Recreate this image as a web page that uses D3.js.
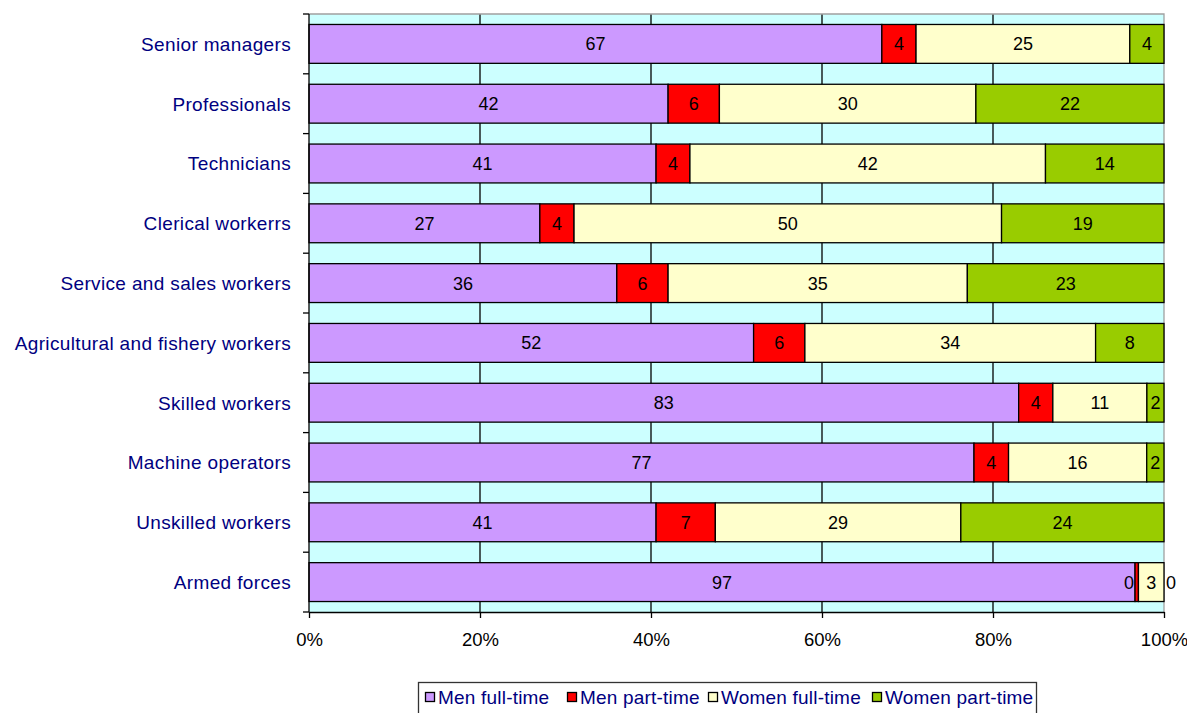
<!DOCTYPE html>
<html>
<head>
<meta charset="utf-8">
<script src="https://cdn.jsdelivr.net/npm/d3@7"></script>
<style>
  html, body { margin: 0; padding: 0; background: #fff; }
  svg { display: block; font-family: "Liberation Sans", Arial, sans-serif; }
</style>
</head>
<body>
<svg id="chart" width="1187" height="713"></svg>
<script>
// Occupational groups, top to bottom
const categories = [
  "Senior managers", "Professionals", "Technicians", "Clerical workerrs",
  "Service and sales workers", "Agricultural and fishery workers",
  "Skilled workers", "Machine operators", "Unskilled workers", "Armed forces"
];
// Share of each group (per cent)
const menFullTime     = [67, 42, 41, 27, 36, 52, 83, 77, 41, 97];
const menPartTime     = [4, 6, 4, 4, 6, 6, 4, 4, 7, 0.4];
const womenFullTime   = [25, 30, 42, 50, 35, 34, 11, 16, 29, 3];
const womenPartTime   = [4, 22, 14, 19, 23, 8, 2, 2, 24, 0];
const seriesNames = ["Men full-time", "Men part-time", "Women full-time", "Women part-time"];
const seriesColors = ["#CC99FF", "#FF0000", "#FFFFCC", "#99CC00"];
const xTickLabels = ["0%", "20%", "40%", "60%", "80%", "100%"];

const rows = categories.map((c, i) => ({
  category: c,
  "Men full-time": menFullTime[i],
  "Men part-time": menPartTime[i],
  "Women full-time": womenFullTime[i],
  "Women part-time": womenPartTime[i]
}));

const stacked = d3.stack()
  .keys(seriesNames)
  .offset(d3.stackOffsetExpand)(rows);

const svg = d3.select("#chart");
const plot = { left: 309, right: 1164, top: 14, bottom: 612 };

const x = d3.scaleLinear().domain([0, 1]).range([plot.left, plot.right]);
const y = d3.scaleBand().domain(categories).range([plot.top, plot.bottom]).paddingInner(0.35).paddingOuter(0.175);
const yBand = d3.scaleBand().domain(categories).range([plot.top, plot.bottom]);

// Plot background
svg.append("rect")
  .attr("x", plot.left).attr("y", plot.top)
  .attr("width", plot.right - plot.left).attr("height", plot.bottom - plot.top)
  .attr("fill", "#CCFFFF");

// Vertical gridlines
svg.append("g").selectAll("line")
  .data([0.2, 0.4, 0.6, 0.8])
  .join("line")
  .attr("x1", d => x(d)).attr("x2", d => x(d))
  .attr("y1", plot.top).attr("y2", plot.bottom)
  .attr("stroke", "#000").attr("stroke-width", 1.3);

// Plot border (top and right)
svg.append("path")
  .attr("d", `M${plot.left},${plot.top}H${plot.right}V${plot.bottom}`)
  .attr("fill", "none").attr("stroke", "#A0A0A0").attr("stroke-width", 1.3);

// Stacked bars
const layer = svg.append("g").selectAll("g")
  .data(stacked)
  .join("g")
  .attr("fill", (d, i) => seriesColors[i]);

layer.selectAll("rect")
  .data(d => d.map(s => ({ seg: s, key: d.key })))
  .join("rect")
  .attr("x", d => x(d.seg[0]))
  .attr("y", d => y(d.seg.data.category))
  .attr("width", d => x(d.seg[1]) - x(d.seg[0]))
  .attr("height", y.bandwidth())
  .attr("stroke", "#000").attr("stroke-width", 1.3);

// Value labels
const lastKey = seriesNames[seriesNames.length - 1];
stacked.forEach(s => {
  svg.append("g").selectAll("text")
    .data(s)
    .join("text")
    .attr("x", d => {
      const v = d.data[s.key];
      if (Math.round(v) === 0) return s.key === lastKey ? x(d[1]) + 2 : x(d[0]) - 1;
      return (x(d[0]) + x(d[1])) / 2;
    })
    .attr("y", d => y(d.data.category) + y.bandwidth() / 2)
    .attr("dy", "0.36em")
    .attr("text-anchor", d => {
      const v = d.data[s.key];
      if (Math.round(v) === 0) return s.key === lastKey ? "start" : "end";
      return "middle";
    })
    .attr("font-size", 18)
    .attr("fill", "#000")
    .text(d => d3.format(".0f")(d.data[s.key]));
});

// Left axis with ticks between categories
const yAxisG = svg.append("g");
yAxisG.append("line")
  .attr("x1", plot.left).attr("x2", plot.left)
  .attr("y1", plot.top).attr("y2", plot.bottom)
  .attr("stroke", "#000").attr("stroke-width", 1.3);
const bounds = categories.map(c => yBand(c)).concat([plot.bottom]);
yAxisG.selectAll(".tk").data(bounds).join("line")
  .attr("x1", plot.left - 6).attr("x2", plot.left)
  .attr("y1", d => d).attr("y2", d => d)
  .attr("stroke", "#000").attr("stroke-width", 1.3);
yAxisG.selectAll("text").data(categories).join("text")
  .attr("x", 291)
  .attr("y", d => yBand(d) + yBand.bandwidth() / 2)
  .attr("dy", "0.36em")
  .attr("text-anchor", "end")
  .attr("font-size", 19)
  .attr("letter-spacing", "0.35px")
  .attr("fill", "#000080")
  .text(d => d);

// Bottom percentage axis
const xAxis = d3.axisBottom(x)
  .tickValues([0, 0.2, 0.4, 0.6, 0.8, 1])
  .tickFormat((d, i) => xTickLabels[i])
  .tickSize(6).tickSizeOuter(0).tickPadding(15);
const xAxisG = svg.append("g")
  .attr("transform", `translate(0,${plot.bottom})`)
  .call(xAxis);
xAxisG.select(".domain").attr("stroke", "#000").attr("stroke-width", 1.3);
xAxisG.selectAll(".tick line").attr("stroke", "#000").attr("stroke-width", 1.3);
xAxisG.selectAll(".tick text")
  .attr("font-size", 18.5).attr("fill", "#000")
  .attr("font-family", "\"Liberation Sans\", Arial, sans-serif");

// Legend
const legend = svg.append("g");
legend.append("rect")
  .attr("x", 418.5).attr("y", 682.5).attr("width", 618).attr("height", 40)
  .attr("fill", "#fff").attr("stroke", "#333").attr("stroke-width", 1.3);
const legendX = [425, 567, 708, 872];
const item = legend.selectAll(".item").data(seriesNames).join("g")
  .attr("transform", (d, i) => `translate(${legendX[i]},697)`);
item.append("rect")
  .attr("x", 0.5).attr("y", -4.5).attr("width", 9).attr("height", 9)
  .attr("fill", (d, i) => seriesColors[i])
  .attr("stroke", "#000").attr("stroke-width", 1.3);
item.append("text")
  .attr("x", 13).attr("y", 0).attr("dy", "0.36em")
  .attr("font-size", 19).attr("letter-spacing", "0.2px").attr("fill", "#000080")
  .text(d => d);
</script>
</body>
</html>
